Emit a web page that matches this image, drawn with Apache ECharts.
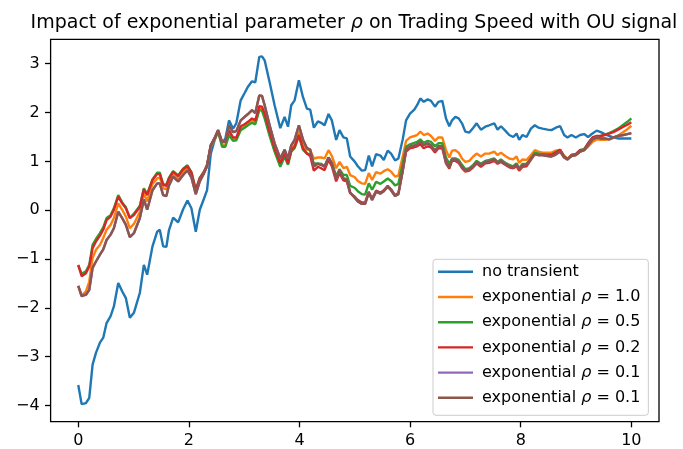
<!DOCTYPE html>
<html>
<head>
<meta charset="utf-8">
<script src="https://cdn.jsdelivr.net/npm/echarts@6/dist/echarts.min.js"></script>
<style>html,body{margin:0;padding:0;background:#fff;}#chart{width:683px;height:449px;}</style>
</head>
<body>
<div id="chart"></div>
<script>
// time grid (shared by all series)
const timeGrid = [0,0.061,0.139,0.199,0.259,0.320,0.392,0.452,0.512,0.585,0.644,0.723,0.794,0.861,0.933,1.006,1.114,1.186,1.246,1.342,1.427,1.474,1.535,1.594,1.638,1.716,1.806,1.896,1.974,2.046,2.125,2.197,2.274,2.329,2.396,2.467,2.528,2.600,2.660,2.726,2.799,2.858,2.937,3.008,3.069,3.141,3.201,3.273,3.322,3.370,3.460,3.550,3.653,3.731,3.792,3.851,3.912,3.989,4.062,4.134,4.194,4.260,4.333,4.392,4.453,4.525,4.585,4.663,4.724,4.795,4.856,4.916,4.995,5.055,5.127,5.187,5.253,5.313,5.385,5.463,5.524,5.595,5.656,5.728,5.788,5.866,5.927,5.998,6.076,6.126,6.185,6.246,6.318,6.378,6.450,6.511,6.582,6.649,6.709,6.758,6.818,6.878,6.938,6.998,7.070,7.142,7.203,7.280,7.359,7.431,7.521,7.581,7.642,7.720,7.792,7.864,7.925,7.972,8.033,8.105,8.184,8.255,8.322,8.394,8.484,8.556,8.634,8.713,8.785,8.845,8.917,8.996,9.073,9.146,9.218,9.296,9.374,9.447,9.519,9.598,9.675,9.759,9.855,9.928,10.0];

const noTransient = [-3.58,-3.97,-3.95,-3.84,-3.16,-2.92,-2.71,-2.61,-2.31,-2.17,-1.97,-1.49,-1.66,-1.80,-2.20,-2.10,-1.69,-1.12,-1.32,-0.74,-0.44,-0.40,-0.74,-0.75,-0.42,-0.15,-0.25,0.02,0.20,0.04,-0.44,0.01,0.24,0.41,1.16,1.44,1.61,1.37,1.47,1.84,1.67,1.78,2.25,2.40,2.53,2.64,2.62,3.14,3.15,3.07,2.62,2.15,1.68,1.91,1.71,2.15,2.25,2.66,2.32,2.08,2.06,1.69,1.82,1.79,1.74,1.97,1.84,1.44,1.64,1.49,1.47,1.10,1.00,0.90,0.81,0.82,1.12,0.90,1.15,1.12,1.03,1.22,1.16,1.02,1.06,1.45,1.84,1.98,2.06,2.15,2.29,2.22,2.27,2.24,2.12,2.22,2.24,1.88,1.72,1.84,1.91,1.88,1.78,1.61,1.59,1.69,1.78,1.65,1.71,1.74,1.78,1.65,1.72,1.63,1.54,1.50,1.57,1.44,1.54,1.50,1.67,1.74,1.69,1.67,1.65,1.64,1.69,1.72,1.54,1.49,1.54,1.49,1.54,1.56,1.50,1.57,1.63,1.60,1.56,1.52,1.49,1.47,1.47,1.47,1.47];

const expRho10 = [-1.55,-1.75,-1.66,-1.46,-0.98,-0.81,-0.71,-0.57,-0.40,-0.30,-0.16,0.14,0.01,-0.13,-0.37,-0.28,-0.03,0.35,0.18,0.54,0.65,0.67,0.45,0.43,0.58,0.74,0.65,0.79,0.88,0.74,0.38,0.63,0.77,0.90,1.30,1.45,1.61,1.33,1.35,1.58,1.44,1.45,1.67,1.72,1.76,1.83,1.79,2.08,2.07,1.95,1.57,1.23,0.99,1.20,0.99,1.27,1.33,1.61,1.33,1.24,1.23,1.06,1.08,1.08,1.06,1.23,1.11,0.86,0.99,0.86,0.89,0.72,0.68,0.60,0.55,0.54,0.76,0.62,0.78,0.75,0.80,0.84,0.79,0.69,0.71,1.10,1.42,1.49,1.52,1.54,1.61,1.54,1.57,1.52,1.42,1.49,1.49,1.23,1.08,1.22,1.23,1.18,1.06,0.99,1.01,1.10,1.16,1.10,1.16,1.16,1.20,1.13,1.18,1.11,1.06,1.04,1.10,0.97,1.04,1.03,1.13,1.23,1.20,1.18,1.18,1.18,1.22,1.24,1.11,1.06,1.11,1.13,1.20,1.23,1.30,1.40,1.45,1.44,1.44,1.45,1.48,1.53,1.60,1.66,1.73];

const expRho05 = [-1.13,-1.30,-1.25,-1.12,-0.71,-0.59,-0.47,-0.35,-0.16,-0.10,0.04,0.31,0.16,0.06,-0.16,-0.07,0.09,0.45,0.33,0.63,0.77,0.77,0.53,0.53,0.66,0.80,0.71,0.85,0.92,0.78,0.42,0.66,0.79,0.92,1.32,1.47,1.62,1.30,1.30,1.54,1.42,1.43,1.64,1.69,1.74,1.79,1.76,2.05,2.04,1.88,1.52,1.20,0.89,1.10,0.93,1.20,1.27,1.52,1.24,1.16,1.15,0.96,0.96,0.95,0.90,1.08,0.97,0.70,0.84,0.72,0.72,0.50,0.46,0.39,0.33,0.32,0.55,0.42,0.58,0.54,0.59,0.65,0.60,0.51,0.54,0.95,1.30,1.35,1.38,1.40,1.45,1.38,1.42,1.40,1.31,1.37,1.37,1.08,0.95,1.06,1.06,1.03,0.93,0.84,0.86,0.93,1.01,0.95,1.01,1.03,1.06,0.99,1.04,0.97,0.93,0.90,0.96,0.86,0.95,0.95,1.06,1.18,1.16,1.15,1.14,1.14,1.19,1.23,1.10,1.04,1.13,1.15,1.23,1.25,1.37,1.48,1.51,1.52,1.55,1.58,1.62,1.67,1.75,1.81,1.88];

const expRho02 = [-1.12,-1.35,-1.29,-1.15,-0.78,-0.64,-0.52,-0.40,-0.20,-0.13,0.01,0.28,0.14,0.04,-0.16,-0.10,0.07,0.43,0.31,0.62,0.74,0.74,0.52,0.50,0.64,0.79,0.70,0.84,0.90,0.77,0.41,0.65,0.79,0.93,1.33,1.49,1.64,1.40,1.40,1.64,1.49,1.49,1.72,1.76,1.81,1.88,1.84,2.13,2.12,1.98,1.61,1.27,0.96,1.16,0.96,1.23,1.30,1.54,1.27,1.16,1.11,0.81,0.89,0.86,0.82,1.03,0.90,0.59,0.76,0.61,0.59,0.35,0.28,0.21,0.16,0.16,0.38,0.24,0.40,0.36,0.41,0.50,0.43,0.31,0.35,0.80,1.20,1.27,1.29,1.31,1.35,1.27,1.31,1.29,1.18,1.27,1.27,0.96,0.85,1.01,1.01,0.97,0.86,0.79,0.81,0.88,0.96,0.89,0.96,0.97,1.01,0.95,0.99,0.93,0.88,0.86,0.90,0.81,0.89,0.90,1.03,1.15,1.13,1.13,1.13,1.13,1.18,1.23,1.10,1.04,1.13,1.15,1.23,1.24,1.37,1.49,1.52,1.52,1.54,1.57,1.60,1.65,1.71,1.75,1.80];

const expRho01b = [-1.55,-1.76,-1.73,-1.63,-1.18,-1.05,-0.91,-0.80,-0.61,-0.50,-0.37,-0.03,-0.16,-0.30,-0.55,-0.47,-0.16,0.22,0.01,0.41,0.55,0.55,0.31,0.29,0.50,0.69,0.59,0.72,0.82,0.67,0.33,0.59,0.76,0.90,1.33,1.47,1.64,1.40,1.40,1.74,1.60,1.62,1.84,1.91,1.97,2.05,1.99,2.35,2.34,2.15,1.74,1.37,1.06,1.24,1.06,1.33,1.44,1.74,1.45,1.27,1.24,0.90,0.95,0.93,0.89,1.08,0.96,0.65,0.82,0.65,0.63,0.36,0.26,0.18,0.13,0.13,0.36,0.21,0.38,0.34,0.39,0.48,0.41,0.29,0.33,0.82,1.24,1.30,1.33,1.35,1.40,1.33,1.37,1.33,1.22,1.31,1.31,0.99,0.88,1.04,1.04,0.99,0.89,0.81,0.84,0.90,0.99,0.92,0.99,1.00,1.04,0.97,1.01,0.95,0.90,0.88,0.93,0.84,0.92,0.93,1.06,1.15,1.13,1.13,1.11,1.10,1.14,1.20,1.08,1.04,1.11,1.13,1.20,1.23,1.33,1.45,1.49,1.47,1.47,1.45,1.49,1.52,1.54,1.56,1.58];

// the two rho = 0.1 runs coincide in the figure
const expRho01a = expRho01b;

const seriesNames = ['no transient','exponential ρ = 1.0','exponential ρ = 0.5','exponential ρ = 0.2','exponential ρ = 0.1','exponential ρ = 0.1\u200b'];
const seriesValues = [noTransient, expRho10, expRho05, expRho02, expRho01a, expRho01b];
const seriesColors = ['#1f77b4','#ff7f0e','#2ca02c','#d62728','#9467bd','#8c564b'];
const xTicks = [0,2,4,6,8,10];
const yTicks = [-4,-3,-2,-1,0,1,2,3];

const FONT = 'DejaVu Sans';
const chart = echarts.init(document.getElementById('chart'), null, {renderer:'canvas'});
function fmtNum(v){ return v < 0 ? '\u2212' + Math.abs(v) : String(v); }
function legendFmt(name){
  const n = name.replace('\u200b','');
  const p = n.split('ρ');
  if (p.length === 1) return '{a|' + n + '}';
  return '{a|' + p[0] + '}{i|ρ}{a|' + p[1] + '}';
}
chart.setOption({
  animation: false,
  backgroundColor: '#fff',
  title: {
    text: 'Impact of exponential parameter {i|ρ} on Trading Speed with OU signal',
    left: 349, top: 9, textAlign: 'center',
    textStyle: {fontFamily: FONT, fontSize: 19, fontWeight: 'normal', color: '#000',
      rich: {i: {fontFamily: FONT, fontSize: 19, fontStyle: 'italic', color: '#000'}}}
  },
  grid: {left: 50.6, right: 24, top: 39.3, bottom: 27.3, show: true, borderColor: '#000', borderWidth: 1.3, containLabel: false},
  xAxis: {
    type: 'value', min: -0.5, max: 10.5,
    splitLine: {show: false},
    axisLine: {show: false, onZero: false},
    axisTick: {show: true, length: 5.6, lineStyle: {color: '#000', width: 1.3}, customValues: xTicks},
    axisLabel: {margin: 11, color: '#000', fontFamily: FONT, fontSize: 16, customValues: xTicks, formatter: fmtNum}
  },
  yAxis: {
    type: 'value', min: -4.33, max: 3.50,
    splitLine: {show: false},
    axisLine: {show: false, onZero: false},
    axisTick: {show: true, length: 5.6, lineStyle: {color: '#000', width: 1.3}, customValues: yTicks},
    axisLabel: {margin: 11, color: '#000', fontFamily: FONT, fontSize: 16, customValues: yTicks, formatter: fmtNum}
  },
  legend: {
    orient: 'vertical', left: 433, top: 259.3,
    padding: [4.5, 8, 9.5, 5],
    itemWidth: 35, itemHeight: 2.4, itemGap: 9.2,
    icon: 'rect',
    backgroundColor: '#fff', borderColor: '#cccccc', borderWidth: 1, borderRadius: 3,
    data: seriesNames,
    formatter: legendFmt,
    textStyle: {fontFamily: FONT, fontSize: 16, color: '#000', padding: [0,0,0,4],
      rich: {a: {fontFamily: FONT, fontSize: 16, color: '#000', lineHeight: 18},
             i: {fontFamily: FONT, fontSize: 16, color: '#000', fontStyle: 'italic', lineHeight: 18}}}
  },
  series: seriesNames.map((name, k) => ({
    name: name, type: 'line', showSymbol: false, symbol: 'none',
    color: seriesColors[k],
    lineStyle: {width: 2.4, color: seriesColors[k]},
    z: 2 + k,
    data: timeGrid.map((t, i) => [t, seriesValues[k][i]])
  }))
});
</script>
</body>
</html>
